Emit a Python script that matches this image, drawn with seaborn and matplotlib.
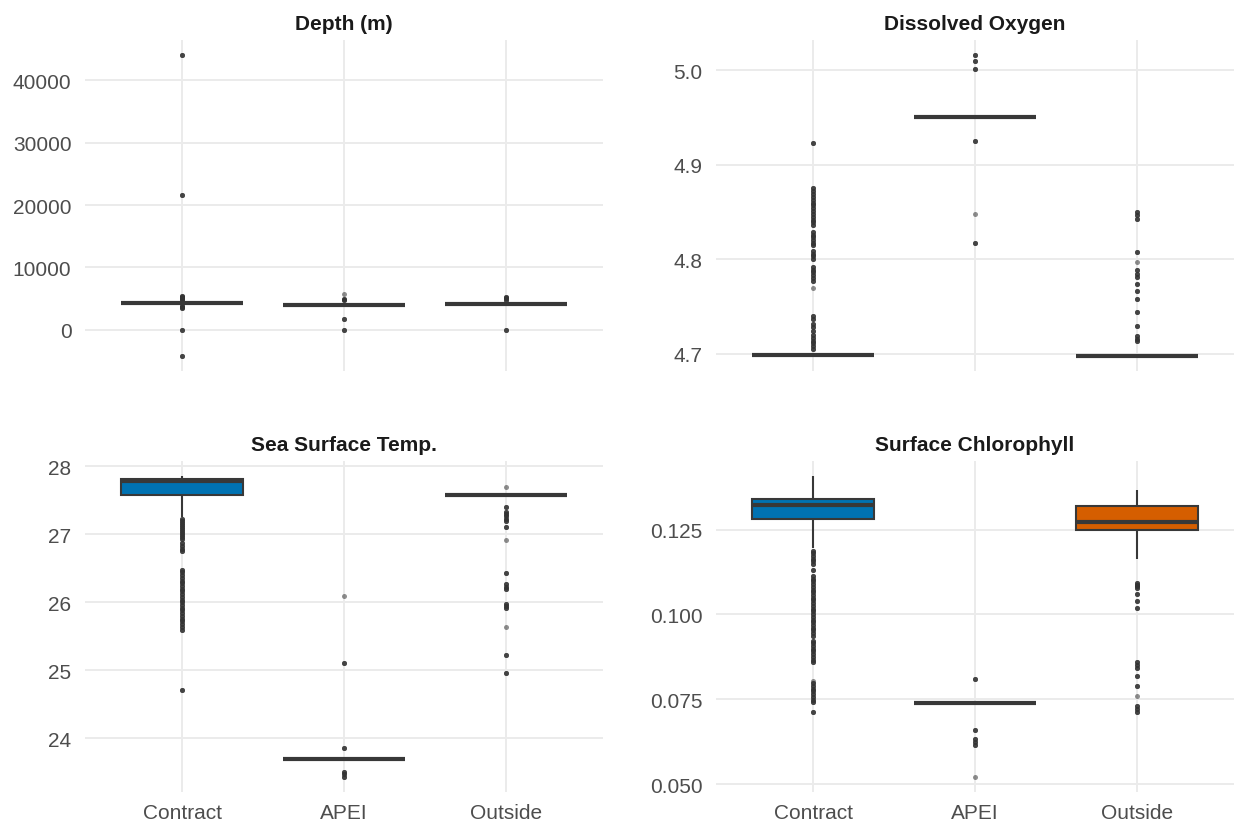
import numpy as np
import pandas as pd
import matplotlib
matplotlib.use("Agg")
import matplotlib.pyplot as plt
from matplotlib.ticker import MultipleLocator, FormatStrFormatter
import seaborn as sns

REGIONS = ["Contract", "APEI", "Outside"]
REGION_COLORS = ["#0072B2", "#009E73", "#D55E00"]

# per region (same order as REGIONS):
#   *_BOX       q1, median, q3 (flat boxes -> all equal)
#   *_WHISKERS  last observation inside the fences
#   *_OUTLIERS  dots that are stacked on many observations (dark)
#   *_SINGLES   lone observations (light dots)
DEPTH_BOX = [[4270, 4270, 4270], [4000, 4000, 4000], [4110, 4110, 4110]]
DEPTH_WHISKERS = [[], [], []]
DEPTH_OUTLIERS = [
    [44050, 21600, 5500, 5300, 5100, 4900, 4700, 3900, 3700, 3500, 0, -4210],
    [5000, 4800, 1760, 0],
    [5250, 5050, 4850, 0],
]
DEPTH_SINGLES = [[], [5800], []]

OXY_BOX = [[4.699, 4.699, 4.699], [4.950, 4.950, 4.950], [4.6975, 4.6975, 4.6975]]
OXY_WHISKERS = [[], [], []]
OXY_OUTLIERS = [
    [4.923, 4.875, 4.872, 4.869, 4.866, 4.863, 4.860, 4.857, 4.854, 4.851,
     4.848, 4.845, 4.842, 4.839, 4.836, 4.829, 4.826, 4.823, 4.820, 4.817,
     4.815, 4.809, 4.806, 4.803, 4.800, 4.792, 4.789, 4.786, 4.783, 4.780,
     4.777, 4.740, 4.737, 4.731, 4.728, 4.724, 4.720, 4.717, 4.714, 4.711,
     4.708, 4.705],
    [5.016, 5.010, 5.001, 4.925, 4.817],
    [4.850, 4.847, 4.843, 4.808, 4.789, 4.784, 4.781, 4.774, 4.766, 4.758,
     4.744, 4.729, 4.719, 4.716, 4.713],
]
OXY_SINGLES = [[4.770], [4.848], [4.797]]

SST_BOX = [[27.58, 27.79, 27.81], [23.69, 23.69, 23.69], [27.58, 27.58, 27.58]]
SST_WHISKERS = [[27.26, 27.86], [], []]
SST_OUTLIERS = [
    [27.23, 27.20, 27.17, 27.14, 27.11, 27.08, 27.05, 27.02, 26.99, 26.96,
     26.93, 26.87, 26.83, 26.79, 26.75, 26.48, 26.44, 26.40, 26.36, 26.32,
     26.28, 26.24, 26.20, 26.16, 26.12, 26.08, 26.04, 26.00, 25.96, 25.92,
     25.88, 25.84, 25.80, 25.76, 25.72, 25.68, 25.64, 25.60, 24.71],
    [25.10, 23.86, 23.51, 23.47, 23.43],
    [27.41, 27.33, 27.30, 27.27, 27.23, 27.20, 27.11, 26.43, 26.27, 26.23,
     26.20, 25.98, 25.95, 25.92, 25.23, 24.96],
]
SST_SINGLES = [[], [26.10], [27.70, 26.92, 25.63]]

CHL_BOX = [[0.1280, 0.1321, 0.1340], [0.0740, 0.0740, 0.0740], [0.1250, 0.1272, 0.1319]]
CHL_WHISKERS = [[0.1196, 0.1408], [], [0.1162, 0.1368]]
CHL_OUTLIERS = [
    [0.1188, 0.1180, 0.1172, 0.1164, 0.1156, 0.1148, 0.1130, 0.1113, 0.1105,
     0.1097, 0.1089, 0.1081, 0.1073, 0.1065, 0.1057, 0.1049, 0.1041, 0.1033,
     0.1025, 0.1017, 0.1009, 0.1001, 0.0993, 0.0985, 0.0977, 0.0969, 0.0961,
     0.0953, 0.0945, 0.0937, 0.0923, 0.0915, 0.0907, 0.0899, 0.0891, 0.0883,
     0.0875, 0.0867, 0.0859, 0.0797, 0.0789, 0.0781, 0.0773, 0.0765, 0.0757,
     0.0749, 0.0743, 0.0711],
    [0.0810, 0.0660, 0.0632, 0.0624, 0.0616],
    [0.1093, 0.1088, 0.1083, 0.1078, 0.1059, 0.1039, 0.1020, 0.0861, 0.0851,
     0.0841, 0.0819, 0.0789, 0.0730, 0.0721, 0.0711],
]
CHL_SINGLES = [[0.0804], [0.0521], [0.0760]]

PANELS = [
    ("Depth (m)", DEPTH_BOX, DEPTH_WHISKERS, DEPTH_OUTLIERS, DEPTH_SINGLES, 10000, "%d"),
    ("Dissolved Oxygen", OXY_BOX, OXY_WHISKERS, OXY_OUTLIERS, OXY_SINGLES, 0.1, "%.1f"),
    ("Sea Surface Temp.", SST_BOX, SST_WHISKERS, SST_OUTLIERS, SST_SINGLES, 1, "%d"),
    ("Surface Chlorophyll", CHL_BOX, CHL_WHISKERS, CHL_OUTLIERS, CHL_SINGLES, 0.025, "%.3f"),
]


def observations(box, whiskers, outliers, singles, n_box=300, n_stack=3):
    # rebuild a sample whose box stats give back what is drawn in the picture
    vals = []
    for v in box:
        vals += [v] * n_box
    vals += list(whiskers)
    for v in outliers:
        vals += [v] * n_stack
    vals += list(singles)
    return vals


def panel_frame(box, whiskers, outliers, singles):
    rows = []
    for i, region in enumerate(REGIONS):
        for v in observations(box[i], whiskers[i], outliers[i], singles[i]):
            rows.append((region, v))
    return pd.DataFrame(rows, columns=["region", "value"])


sns.set_theme(style="whitegrid")
plt.rcParams["font.family"] = ["Liberation Sans", "DejaVu Sans"]

fig, axes = plt.subplots(2, 2, figsize=(12.35, 8.29), dpi=100)
fig.subplots_adjust(left=0.0688, right=0.9992, bottom=0.0434, top=0.9505,
                    wspace=0.218, hspace=0.271)

for k, (title, box, whiskers, outliers, singles, step, fmt) in enumerate(PANELS):
    ax = axes.flat[k]
    df = panel_frame(box, whiskers, outliers, singles)

    sns.boxplot(
        data=df, x="region", y="value", hue="region",
        order=REGIONS, hue_order=REGIONS, palette=REGION_COLORS,
        legend=False, saturation=1, width=0.75, whis=1.5,
        linecolor="#383838", linewidth=1.5, showcaps=False,
        fliersize=3.6,
        flierprops=dict(marker="o", markerfacecolor="#333333",
                        markeredgecolor="none", alpha=0.55),
        medianprops=dict(linewidth=3.0),
        ax=ax,
    )

    lo, hi = df["value"].min(), df["value"].max()
    pad = 0.05 * (hi - lo)
    ax.set_ylim(lo - pad, hi + pad)
    ax.set_xlim(-0.6, 2.6)
    ax.yaxis.set_major_locator(MultipleLocator(step))
    ax.yaxis.set_major_formatter(FormatStrFormatter(fmt))

    ax.set_title(title, fontsize=15, fontweight="bold", color="#1a1a1a", pad=8)
    ax.set_xlabel("")
    ax.set_ylabel("")
    ax.grid(True, color="#EBEBEB", linewidth=1.4)
    ax.set_axisbelow(True)
    for s in ax.spines.values():
        s.set_visible(False)
    ax.tick_params(axis="both", length=0, labelsize=15, labelcolor="#4D4D4D")
    ax.tick_params(axis="y", pad=9.7)
    ax.tick_params(axis="x", pad=8)
    if k < 2:
        ax.tick_params(axis="x", labelbottom=False)

fig.savefig("out.png", dpi=100)
